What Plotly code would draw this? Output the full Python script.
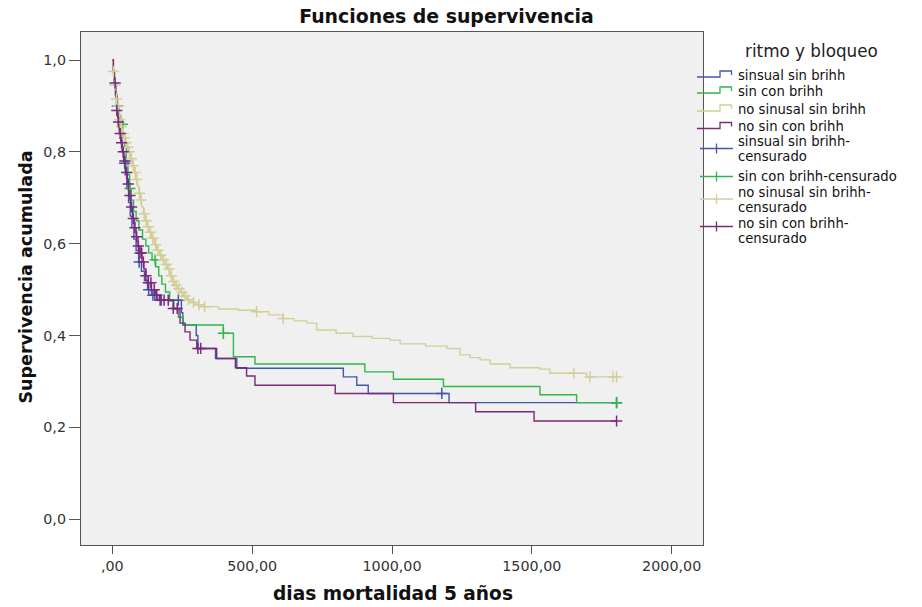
import plotly.graph_objects as go

# ---- Kaplan-Meier estimates: event times (days) and survival after each event ----
sinsual_t = [3, 7, 11, 15, 20, 25, 30, 35, 40, 46, 52, 58, 64, 70, 77, 85, 94, 104, 115, 126,
             140, 160, 247, 252, 300, 306, 369, 445, 826, 874, 915, 1204]
sinsual_s = [0.975, 0.95, 0.925, 0.90, 0.875, 0.85, 0.825, 0.80, 0.775, 0.75, 0.72, 0.69, 0.66,
             0.635, 0.61, 0.585, 0.56, 0.54, 0.52, 0.50, 0.488, 0.477, 0.45, 0.423, 0.40, 0.372,
             0.35, 0.329, 0.31, 0.292, 0.274, 0.254]
sinsual_cens = [18, 44, 96, 130, 145, 152, 175, 236, 1178, 1803]

sincon_t = [3, 7, 12, 17, 23, 30, 38, 44, 50, 56, 62, 68, 76, 85, 95, 108, 120, 130, 142, 155,
            166, 177, 190, 205, 220, 236, 254, 397, 433, 510, 903, 1005, 1184, 1529, 1660]
sincon_s = [0.975, 0.95, 0.925, 0.90, 0.88, 0.86, 0.835, 0.81, 0.78, 0.75, 0.72, 0.695, 0.67,
            0.65, 0.63, 0.61, 0.595, 0.58, 0.565, 0.55, 0.53, 0.512, 0.495, 0.475, 0.458, 0.44,
            0.423, 0.405, 0.354, 0.338, 0.321, 0.305, 0.289, 0.271, 0.254]
sincon_cens = [36, 63, 153, 397, 1803]

nosinusal_t = [1, 3, 5, 8, 11, 14, 18, 22, 26, 30, 35, 40, 46, 52, 60, 66, 72, 78, 84, 90, 95,
               100, 105, 111, 117, 124, 132, 140, 150, 159, 168, 178, 188, 198, 206, 214, 222,
               232, 242, 254, 266, 280, 300, 320, 380, 450, 516, 560, 611, 650, 695, 731, 800,
               861, 930, 993, 1029, 1120, 1196, 1243, 1280, 1315, 1351, 1422, 1529, 1565, 1696]
nosinusal_s = [0.99, 0.975, 0.96, 0.945, 0.93, 0.915, 0.90, 0.885, 0.87, 0.855, 0.84, 0.83,
               0.82, 0.81, 0.80, 0.785, 0.77, 0.755, 0.74, 0.725, 0.71, 0.695, 0.68, 0.665,
               0.65, 0.637, 0.625, 0.612, 0.598, 0.586, 0.575, 0.565, 0.555, 0.545, 0.53, 0.518,
               0.51, 0.502, 0.494, 0.486, 0.478, 0.472, 0.467, 0.463, 0.458, 0.455, 0.452, 0.445,
               0.437, 0.432, 0.427, 0.412, 0.405, 0.398, 0.394, 0.39, 0.382, 0.377, 0.372, 0.358,
               0.352, 0.347, 0.338, 0.33, 0.327, 0.318, 0.31]
nosinusal_cens = [4, 9, 15, 21, 27, 33, 39, 44, 49, 55, 61, 68, 75, 82, 88, 97, 103, 114, 121,
                  128, 136, 145, 155, 163, 173, 183, 193, 203, 211, 219, 228, 238, 249, 260,
                  272, 290, 310, 330, 516, 611, 1650, 1708, 1790, 1803]

nosincon_t = [4, 8, 12, 16, 20, 25, 30, 36, 42, 48, 54, 60, 66, 72, 78, 85, 92, 99, 106, 113,
              120, 128, 140, 155, 168, 218, 242, 260, 278, 302, 373, 440, 480, 510, 797, 1005,
              1299, 1508]
nosincon_s = [0.975, 0.95, 0.92, 0.89, 0.865, 0.84, 0.82, 0.80, 0.78, 0.755, 0.73, 0.705, 0.68,
              0.655, 0.635, 0.615, 0.595, 0.58, 0.56, 0.545, 0.53, 0.515, 0.50, 0.488, 0.477,
              0.459, 0.427, 0.408, 0.39, 0.372, 0.35, 0.33, 0.312, 0.292, 0.274, 0.254, 0.234,
              0.214]
nosincon_cens = [10, 16, 22, 28, 33, 39, 45, 51, 57, 63, 69, 75, 81, 87, 93, 99, 105, 111, 120,
                 129, 138, 150, 159, 171, 185, 200, 218, 232, 306, 316, 1803]

group_names = ["sinsual sin brihh", "sin con brihh", "no sinusal sin brihh", "no sin con brihh"]
group_colors = ["#3e58ac", "#2eb848", "#d3ce97", "#7c287d"]
censored_labels = [["sinsual sin brihh-", "censurado"], ["sin con brihh-censurado"],
                   ["no sinusal sin brihh-", "censurado"], ["no sin con brihh-", "censurado"]]

x_tickvals = [0, 500, 1000, 1500, 2000]
x_ticktext = [",00", "500,00", "1000,00", "1500,00", "2000,00"]
y_tickvals = [0.0, 0.2, 0.4, 0.6, 0.8, 1.0]
y_ticktext = ["0,0", "0,2", "0,4", "0,6", "0,8", "1,0"]

groups = [
    (sinsual_t, sinsual_s, sinsual_cens),
    (sincon_t, sincon_s, sincon_cens),
    (nosinusal_t, nosinusal_s, nosinusal_cens),
    (nosincon_t, nosincon_s, nosincon_cens),
]


def survival_at(times, surv, t):
    """Value of the step survival function at time t."""
    s = 1.0
    for te, se in zip(times, surv):
        if te <= t:
            s = se
        else:
            break
    return s


FONT = "DejaVu Sans, Arial, sans-serif"
fig = go.Figure()

# survival step curves
for (times, surv, cens), name, col in zip(groups, group_names, group_colors):
    end = max(max(cens), max(times))
    fig.add_trace(go.Scatter(
        x=[0] + times + [end], y=[1.0] + surv + [surv[-1]],
        mode="lines", line=dict(color=col, width=1.4, shape="hv"),
        name=name, showlegend=False, hoverinfo="skip"))

# censored observations
for (times, surv, cens), name, col in zip(groups, group_names, group_colors):
    fig.add_trace(go.Scatter(
        x=cens, y=[survival_at(times, surv, c) for c in cens],
        mode="markers",
        marker=dict(symbol="cross-thin", size=8, line=dict(color=col, width=1.5)),
        name=name + "-censurado", showlegend=False, hoverinfo="skip"))

# plot-area pixel frame (used for the hand-drawn legend)
PL, PR, PT, PB = 81, 703, 32, 545


def xp(px):
    return (px - PL) / (PR - PL)


def yp(py):
    return (PB - py) / (PB - PT)


shapes = []
annotations = []

# legend title
annotations.append(dict(text="ritmo y bloqueo", xref="paper", yref="paper", x=xp(811), y=yp(51),
                        xanchor="center", yanchor="middle", showarrow=False,
                        font=dict(family=FONT, size=16.8, color="#222")))

LEG_FONT = dict(family=FONT, size=13.2, color="#111")
TEXT_X = 736

# step-line entries
line_rows = [75, 91, 109, 126.5]
for name, col, yc in zip(group_names, group_colors, line_rows):
    path = (f"M {xp(697)},{yp(yc + 2)} L {xp(720)},{yp(yc + 2)} L {xp(720)},{yp(yc - 4)} "
            f"L {xp(731.5)},{yp(yc - 4)} L {xp(731.5)},{yp(yc)}")
    shapes.append(dict(type="path", path=path, xref="paper", yref="paper",
                       line=dict(color=col, width=1.3)))
    annotations.append(dict(text=name, xref="paper", yref="paper", x=xp(TEXT_X), y=yp(yc),
                            xanchor="left", yanchor="middle", showarrow=False, font=LEG_FONT))

# censored entries
cens_rows = [[141.3, 156.7], [176.5], [192.2, 207.6], [223.2, 238.6]]
cens_symbol_y = [148.5, 176.5, 199.0, 226.5]
for lines, col, rows, ys in zip(censored_labels, group_colors, cens_rows, cens_symbol_y):
    shapes.append(dict(type="line", xref="paper", yref="paper", x0=xp(700), x1=xp(733),
                       y0=yp(ys), y1=yp(ys), line=dict(color=col, width=1.3)))
    shapes.append(dict(type="line", xref="paper", yref="paper", x0=xp(716.5), x1=xp(716.5),
                       y0=yp(ys - 5), y1=yp(ys + 5), line=dict(color=col, width=1.3)))
    for txt, yc in zip(lines, rows):
        annotations.append(dict(text=txt, xref="paper", yref="paper", x=xp(TEXT_X), y=yp(yc),
                                xanchor="left", yanchor="middle", showarrow=False, font=LEG_FONT))

# axis titles
annotations.append(dict(text="<b>dias mortalidad 5 años</b>", xref="paper", yref="paper",
                        x=xp(393), y=yp(593), xanchor="center", yanchor="middle",
                        showarrow=False, font=dict(family=FONT, size=18.6, color="#111")))
annotations.append(dict(text="<b>Supervivencia acumulada</b>", xref="paper", yref="paper",
                        x=xp(25), y=yp(277.5), xanchor="center", yanchor="middle",
                        textangle=-90, showarrow=False,
                        font=dict(family=FONT, size=17.5, color="#111")))

AX_COL = "#555555"
fig.update_layout(
    width=922, height=607, autosize=False,
    margin=dict(l=PL, r=922 - PR, t=PT, b=607 - PB),
    paper_bgcolor="white", plot_bgcolor="#f0f0f0",
    title=dict(text="<b>Funciones de supervivencia</b>", xref="container", yref="container",
               x=446.5 / 922, y=1 - 16 / 607, xanchor="center", yanchor="middle",
               font=dict(family=FONT, size=18.9, color="#111")),
    xaxis=dict(range=[-112, 2112], tickvals=x_tickvals, ticktext=x_ticktext,
               ticks="outside", ticklen=8, tickwidth=1.3, tickcolor=AX_COL,
               showline=True, linecolor=AX_COL, linewidth=1.3, mirror=True,
               showgrid=False, zeroline=False,
               tickfont=dict(family=FONT, size=14.3, color="#333")),
    yaxis=dict(range=[-0.056, 1.061], tickvals=y_tickvals, ticktext=y_ticktext,
               ticks="outside", ticklen=11, tickwidth=1.3, tickcolor=AX_COL,
               showline=True, linecolor=AX_COL, linewidth=1.3, mirror=True,
               showgrid=False, zeroline=False,
               tickfont=dict(family=FONT, size=14.3, color="#333")),
    shapes=shapes, annotations=annotations, showlegend=False,
)

fig.write_html("out.html")
